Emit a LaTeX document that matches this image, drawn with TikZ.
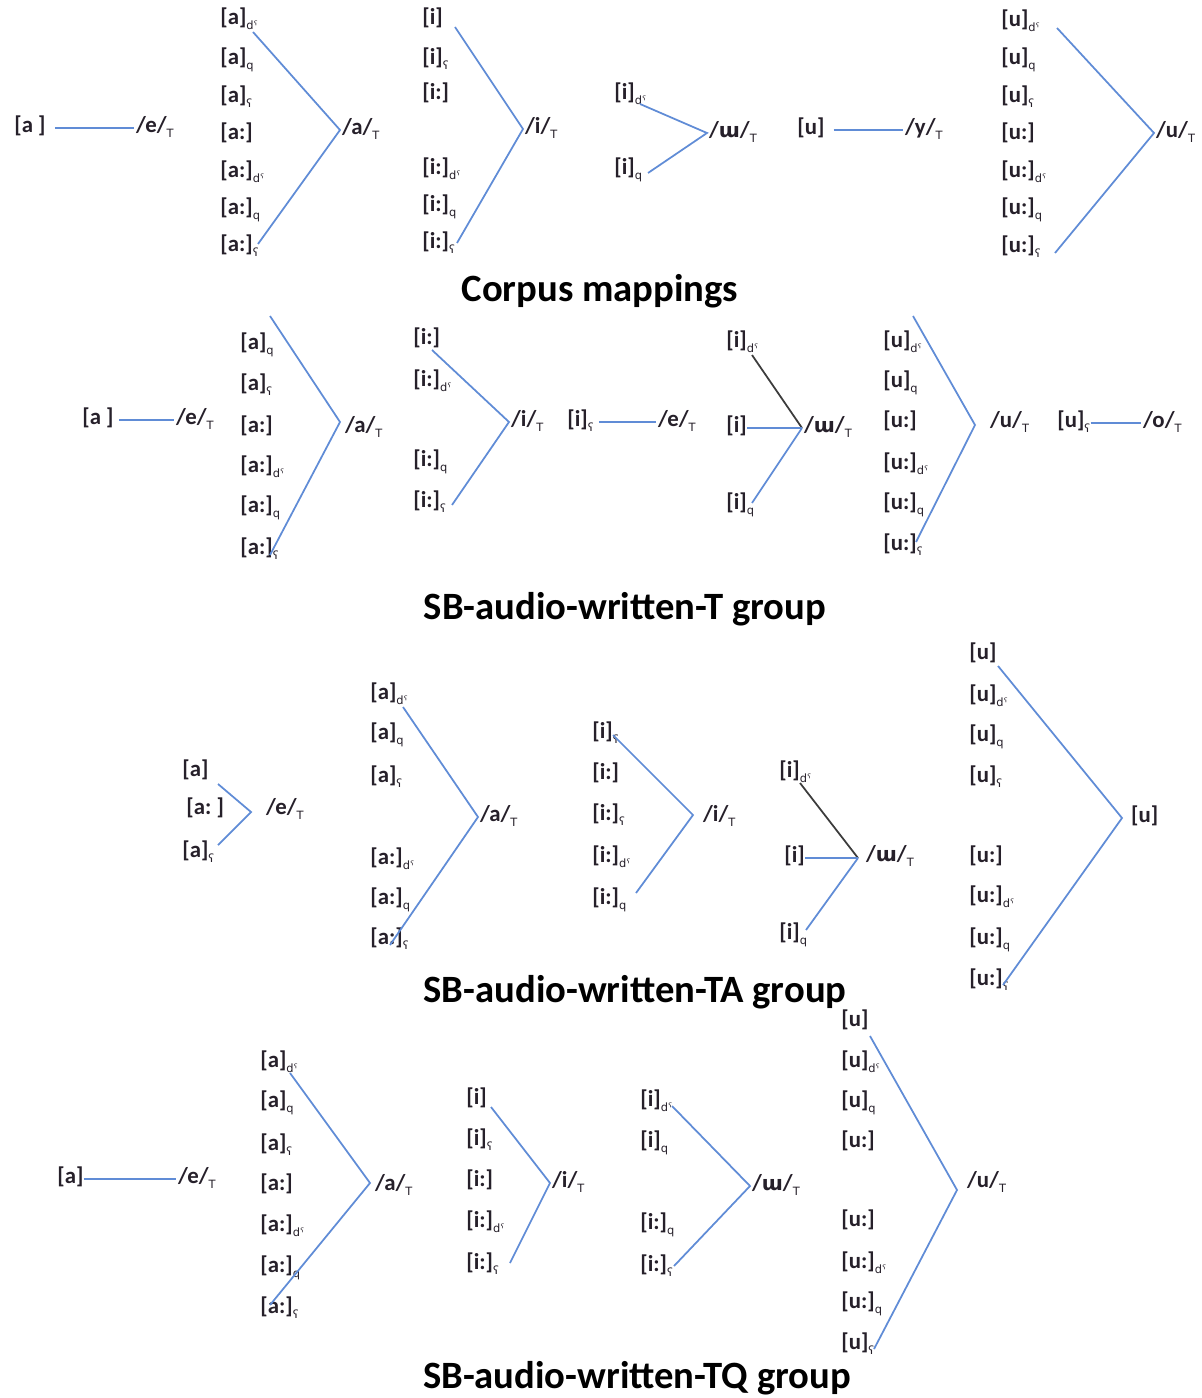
\documentclass[tikz,border=0pt]{standalone}
\usepackage{fontspec}
\setmainfont{Carlito}
\newfontfamily\ipafont{DejaVu Sans}

\definecolor{lineblue}{RGB}{96,140,214}
\definecolor{linedark}{RGB}{60,60,60}
\definecolor{ink}{RGB}{38,32,42}

\newcommand{\lo}[1]{\raisebox{-0.45ex}{\ipafont\mdseries\fontsize{6.5}{7}\selectfont #1}}
\newcommand{\uu}{{\ipafont\bfseries\fontsize{11.5}{13}\selectfont ɯ}}
\newcommand{\labfont}{\fontsize{13}{15}\selectfont\bfseries\color{ink}}

\tikzset{
  lab/.style={anchor=west,inner sep=0pt,font=\labfont,text height=1.7ex,text depth=.6ex},
  tgt/.style={lab,inner sep=1pt},
  link/.style={draw=lineblue,line width=1pt},
  darklink/.style={draw=linedark,line width=1pt},
  grouptitle/.style={font=\fontsize{22}{25}\selectfont\bfseries}
}

\begin{document}
\begin{tikzpicture}[x=0.02cm,y=-0.02cm]
\useasboundingbox (0,0) rectangle (1201,1398);

% ===== Corpus mappings =====
\node[lab] (ce) at (14,128) {[a\ ]};
\node[tgt] (cet) at (134,128) {/e/\lo{T}};
\draw[link,shorten <=5pt] (ce.east) -- (cet.west);

\foreach \t/\y [count=\k] in {{[a]\lo{dˤ}}/20,{[a]\lo{q}}/60,{[a]\lo{ʕ}}/98,{[a:]}/135,{[a:]\lo{dˤ}}/173,{[a:]\lo{q}}/210,{[a:]\lo{ʕ}}/247}
    \node[lab] (ca\k) at (220,\y) {\t};
\coordinate (ca-top) at (253,32);
\coordinate (ca-bot) at (258,244);
\node[tgt] (cat) at (340,130) {/a/\lo{T}};
\draw[link] (ca-top) -- (cat.west) -- (ca-bot);

\foreach \t/\y [count=\k] in {{[i]}/20,{[i]\lo{ʕ}}/60,{[i:]}/95,{[i:]\lo{dˤ}}/170,{[i:]\lo{q}}/207,{[i:]\lo{ʕ}}/244}
    \node[lab] (ci\k) at (422,\y) {\t};
\coordinate (ci-top) at (455,27);
\coordinate (ci-bot) at (457,243);
\node[tgt] (cit) at (523,129) {/i/\lo{T}};
\draw[link] (ci-top) -- (cit.west) -- (ci-bot);

\node[lab] (cw1) at (614,95) {[i]\lo{dˤ}};
\node[lab] (cw2) at (614,170) {[i]\lo{q}};
\coordinate (cw-top) at (640,104);
\coordinate (cw-bot) at (648,173);
\node[tgt] (cwt) at (707,133) {/\uu/\lo{T}};
\draw[link] (cw-top) -- (cwt.west) -- (cw-bot);

\node[lab] (cy) at (797,130) {[u]};
\node[tgt] (cyt) at (903,130) {/y/\lo{T}};
\draw[link,shorten <=5pt] (cy.east) -- (cyt.west);

\foreach \t/\y [count=\k] in {{[u]\lo{dˤ}}/22,{[u]\lo{q}}/60,{[u]\lo{ʕ}}/98,{[u:]}/135,{[u:]\lo{dˤ}}/173,{[u:]\lo{q}}/210,{[u:]\lo{ʕ}}/248}
    \node[lab] (cu\k) at (1001,\y) {\t};
\coordinate (cu-top) at (1057,28);
\coordinate (cu-bot) at (1055,253);
\node[tgt] (cut) at (1154,133) {/u/\lo{T}};
\draw[link] (cu-top) -- (cut.west) -- (cu-bot);

\node[grouptitle] (title1) at (600,291) {Corpus mappings};

% ===== SB-audio-written-T group =====
\node[lab] (te) at (82,420) {[a\ ]};
\node[tgt] (tet) at (174,420) {/e/\lo{T}};
\draw[link,shorten <=3pt] (te.east) -- (tet.west);

\foreach \t/\y [count=\k] in {{[a]\lo{q}}/345,{[a]\lo{ʕ}}/386,{[a:]}/428,{[a:]\lo{dˤ}}/468,{[a:]\lo{q}}/508,{[a:]\lo{ʕ}}/550}
    \node[lab] (ta\k) at (240,\y) {\t};
\coordinate (ta-top) at (270,316);
\coordinate (ta-bot) at (270,555);
\coordinate (ta-v) at (340,422);
\node[tgt] (tat) at (343,428) {/a/\lo{T}};
\draw[link] (ta-top) -- (ta-v) -- (ta-bot);

\foreach \t/\y [count=\k] in {{[i:]}/340,{[i:]\lo{dˤ}}/382,{[i:]\lo{q}}/462,{[i:]\lo{ʕ}}/503}
    \node[lab] (ti\k) at (413,\y) {\t};
\coordinate (ti-top) at (432,350);
\coordinate (ti-bot) at (452,505);
\node[tgt] (tit) at (509,422) {/i/\lo{T}};
\draw[link] (ti-top) -- (tit.west) -- (ti-bot);

\node[lab] (tf) at (567,422) {[i]\lo{ʕ}};
\node[tgt] (tft) at (656,422) {/e/\lo{T}};
\draw[link,shorten <=3pt] (tf.east) -- (tft.west);

\node[lab] (tw1) at (726,343) {[i]\lo{dˤ}};
\node[lab] (tw2) at (726,428) {[i]};
\node[lab] (tw3) at (726,505) {[i]\lo{q}};
\coordinate (tw-top) at (752,355);
\coordinate (tw-bot) at (752,503);
\node[tgt] (twt) at (802,428) {/\uu/\lo{T}};
\draw[darklink] (tw-top) -- (twt.west);
\draw[link] (tw2.east) -- (twt.west);
\draw[link] (tw-bot) -- (twt.west);

\foreach \t/\y [count=\k] in {{[u]\lo{dˤ}}/343,{[u]\lo{q}}/383,{[u:]}/423,{[u:]\lo{dˤ}}/465,{[u:]\lo{q}}/505,{[u:]\lo{ʕ}}/546}
    \node[lab] (tu\k) at (883,\y) {\t};
\coordinate (tu-top) at (913,316);
\coordinate (tu-v) at (975,425);
\coordinate (tu-bot) at (916,542);
\node[tgt] (tut) at (988,423) {/u/\lo{T}};
\draw[link] (tu-top) -- (tu-v) -- (tu-bot);

\node[lab] (to) at (1057,423) {[u]\lo{ʕ}};
\node[tgt] (tot) at (1141,423) {/o/\lo{T}};
\draw[link] (to.east) -- (tot.west);

\node[grouptitle] (title2) at (625,609) {SB-audio-written-T group};

% ===== SB-audio-written-TA group =====
\node[lab] (se1) at (182,772) {[a]};
\node[lab] (se2) at (186,810) {[a:\ ]};
\node[lab] (se3) at (182,853) {[a]\lo{ʕ}};
\coordinate (se-top) at (218,784);
\coordinate (se-v) at (251,812);
\coordinate (se-bot) at (218,845);
\node[tgt] (set) at (264,810) {/e/\lo{T}};
\draw[link] (se-top) -- (se-v) -- (se-bot);

\foreach \t/\y [count=\k] in {{[a]\lo{dˤ}}/695,{[a]\lo{q}}/735,{[a]\lo{ʕ}}/778,{[a:]\lo{dˤ}}/860,{[a:]\lo{q}}/900,{[a:]\lo{ʕ}}/940}
    \node[lab] (sa\k) at (370,\y) {\t};
\coordinate (sa-top) at (403,707);
\coordinate (sa-bot) at (390,945);
\node[tgt] (sat) at (478,817) {/a/\lo{T}};
\draw[link] (sa-top) -- (sat.west) -- (sa-bot);

\foreach \t/\y [count=\k] in {{[i]\lo{ʕ}}/734,{[i:]}/775,{[i:]\lo{ʕ}}/816,{[i:]\lo{dˤ}}/858,{[i:]\lo{q}}/900}
    \node[lab] (si\k) at (592,\y) {\t};
\coordinate (si-top) at (613,735);
\coordinate (si-v) at (693,815);
\coordinate (si-bot) at (636,893);
\node[tgt] (sit) at (701,817) {/i/\lo{T}};
\draw[link] (si-top) -- (si-v) -- (si-bot);

\node[lab] (sw1) at (779,773) {[i]\lo{dˤ}};
\node[lab] (sw2) at (784,858) {[i]};
\node[lab] (sw3) at (779,935) {[i]\lo{q}};
\coordinate (sw-top) at (800,783);
\coordinate (sw-v) at (858,858);
\coordinate (sw-bot) at (806,930);
\node[tgt] (swt) at (864,857) {/\uu/\lo{T}};
\draw[darklink] (sw-top) -- (sw-v);
\draw[link] (sw2.east) -- (sw-v);
\draw[link] (sw-bot) -- (sw-v);

\foreach \t/\y [count=\k] in {{[u]}/655,{[u]\lo{dˤ}}/697,{[u]\lo{q}}/737,{[u]\lo{ʕ}}/778,{[u:]}/858,{[u:]\lo{dˤ}}/898,{[u:]\lo{q}}/940,{[u:]\lo{ʕ}}/981}
    \node[lab] (su\k) at (969,\y) {\t};
\coordinate (su-top) at (998,666);
\coordinate (su-bot) at (1003,985);
\node[tgt] (sut) at (1122,818) {\hspace{4pt}[u]};
\draw[link] (su-top) -- (sut.west) -- (su-bot);

\node[grouptitle] (title3) at (635,992) {SB-audio-written-TA group};

% ===== SB-audio-written-TQ group =====
\node[lab] (qe) at (57,1179) {[a]};
\node[tgt] (qet) at (176,1179) {/e/\lo{T}};
\draw[link] (qe.east) -- (qet.west);

\foreach \t/\y [count=\k] in {{[a]\lo{dˤ}}/1063,{[a]\lo{q}}/1103,{[a]\lo{ʕ}}/1146,{[a:]}/1186,{[a:]\lo{dˤ}}/1227,{[a:]\lo{q}}/1268,{[a:]\lo{ʕ}}/1309}
    \node[lab] (qa\k) at (260,\y) {\t};
\coordinate (qa-top) at (290,1073);
\coordinate (qa-v) at (370,1183);
\coordinate (qa-bot) at (270,1305);
\node[tgt] (qat) at (373,1186) {/a/\lo{T}};
\draw[link] (qa-top) -- (qa-v) -- (qa-bot);

\foreach \t/\y [count=\k] in {{[i]}/1100,{[i]\lo{ʕ}}/1141,{[i:]}/1182,{[i:]\lo{dˤ}}/1223,{[i:]\lo{ʕ}}/1265}
    \node[lab] (qi\k) at (466,\y) {\t};
\coordinate (qi-top) at (491,1107);
\coordinate (qi-bot) at (510,1263);
\node[tgt] (qit) at (550,1183) {/i/\lo{T}};
\draw[link] (qi-top) -- (qit.west) -- (qi-bot);

\foreach \t/\y [count=\k] in {{[i]\lo{dˤ}}/1102,{[i]\lo{q}}/1143,{[i:]\lo{q}}/1225,{[i:]\lo{ʕ}}/1267}
    \node[lab] (qw\k) at (640,\y) {\t};
\coordinate (qw-top) at (672,1106);
\coordinate (qw-bot) at (674,1266);
\node[tgt] (qwt) at (750,1186) {/\uu/\lo{T}};
\draw[link] (qw-top) -- (qwt.west) -- (qw-bot);

\foreach \t/\y [count=\k] in {{[u]}/1022,{[u]\lo{dˤ}}/1063,{[u]\lo{q}}/1103,{[u:]}/1143,{[u:]}/1222,{[u:]\lo{dˤ}}/1264,{[u:]\lo{q}}/1304,{[u]\lo{ʕ}}/1345}
    \node[lab] (qu\k) at (841,\y) {\t};
\coordinate (qu-top) at (870,1036);
\coordinate (qu-v) at (957,1190);
\coordinate (qu-bot) at (874,1349);
\node[tgt] (qut) at (965,1183) {/u/\lo{T}};
\draw[link] (qu-top) -- (qu-v) -- (qu-bot);

\node[grouptitle] (title4) at (637,1378) {SB-audio-written-TQ group};

\end{tikzpicture}
\end{document}
